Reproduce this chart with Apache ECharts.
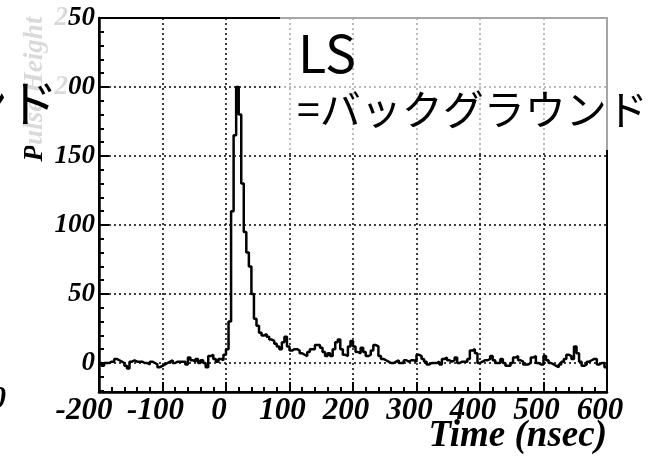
<!DOCTYPE html>
<html>
<head>
<meta charset="utf-8">
<script src="https://cdn.jsdelivr.net/npm/echarts@6/dist/echarts.min.js"></script>
<style>
  html, body { margin: 0; padding: 0; background: #fff; }
  #main { width: 663px; height: 458px; }
</style>
</head>
<body>
<div id="main"></div>
<script>
// histogram binning (ns)
var BIN_START = -200;
var BIN_WIDTH = 4;
var X_MIN = -200, X_MAX = 600;
var Y_MIN = -21, Y_MAX = 250;

// counts per 4 ns bin
var countsPre = [0, -2, 0, 0, 1, 1, 3, 2, 1, 0, -2, -4, 1, 2, 1, 1, 1, 0, 0, -1,
    1, 0, -1, -3, -2, -1, 0, 1, 2, 0, 1, 1, 1, 1, -1, 4, 2, 1, 3, 0,
    2, 0, -3, 5, 6, 3, 1, 3, 2, 6];                       // -200 .. 0
var countsPeak = [10, 30, 110, 165, 200, 180, 130, 95, 80, 70, 50, 32, 27, 22, 20, 21, 19, 17, 16, 14,
    12, 10, 15, 19, 12, 9, 10, 10, 9, 7, 6, 5, 8, 10, 10, 13, 13, 11, 8, 5,
    7, 5, 10, 15, 17, 10, 6, 5, 12, 16];                  // 0 .. 200
var countsTail1 = [12, 8, 7, 11, 8, 5, 6, 9, 13, 12, 5, 3, 2, 1, 0, 0, 1, 2, 0, 0,
    2, 1, 2, 2, 1, 6, 5, 3, 1, -1, 0, 0, 0, 1, -1, 3, 4, 2, 1, 2,
    4, 0, 1, 1, 1, 3, 9, 10, 7, 0];                       // 200 .. 400
var countsTail2 = [1, 2, 2, 3, 5, 2, 0, 0, 3, 0, -2, -2, 0, 4, 5, 2, 1, -1, -1, 0,
    4, 5, 0, -1, -1, 5, 2, 0, -1, -2, -3, -1, 1, 3, 6, 5, 3, 12, 7, 1,
    -2, -1, 1, 2, 3, 3, -1, 0, 0, -3];                    // 400 .. 600

var xTitle = 'Time (nsec)';
var yTitle = 'Pulse Height';
var noteLines = ['LS', '=バックグラウンド'];
var leftCutText = 'ンド';

var counts = countsPre.concat(countsPeak, countsTail1, countsTail2);

// step line: point at each bin's left edge, plus closing point at the last edge
var histData = [];
for (var i = 0; i < counts.length; i++) {
    histData.push([BIN_START + i * BIN_WIDTH, counts[i]]);
}
histData.push([BIN_START + counts.length * BIN_WIDTH, counts[counts.length - 1]]);

var serif = '"Liberation Serif", "Times New Roman", serif';
var jp = '"Noto Sans CJK JP", sans-serif';

var myChart = echarts.init(document.getElementById('main'), null, {renderer: 'canvas'});

var labelFont = {fontFamily: serif, fontStyle: 'italic', fontWeight: 'bold', fontSize: 31, color: '#000'};

var option = {
    animation: false,
    backgroundColor: '#fff',
    grid: {
        left: 99, right: 56, top: 18, bottom: 66,
        containLabel: false,
        outerBoundsMode: 'none',
        show: true,
        borderColor: '#000',
        borderWidth: 2
    },
    xAxis: {
        type: 'value',
        min: X_MIN, max: X_MAX, interval: 100,
        axisLine: {onZero: false, lineStyle: {color: '#000', width: 2.5}},
        axisTick: {inside: true, length: 10, lineStyle: {color: '#000', width: 2}},
        minorTick: {show: true, splitNumber: 5, length: 5, lineStyle: {color: '#000', width: 2}},
        splitLine: {show: true, lineStyle: {color: '#000', width: 1.5, type: [2, 3]}},
        axisLabel: {
            margin: 3,
            formatter: function (v) {
                return v === X_MIN ? '{first|' + v + '}' : '{n|' + v + '}';
            },
            rich: {
                first: Object.assign({padding: [0, 30, 0, 0]}, labelFont),
                n: Object.assign({padding: [0, 14, 0, 0]}, labelFont)
            }
        }
    },
    yAxis: {
        type: 'value',
        min: Y_MIN, max: Y_MAX, splitNumber: 5,
        axisLine: {onZero: false, lineStyle: {color: '#000', width: 2.5}},
        axisTick: {inside: true, length: 10, lineStyle: {color: '#000', width: 2}},
        minorTick: {show: true, splitNumber: 5, length: 5, lineStyle: {color: '#000', width: 2}},
        splitLine: {show: true, lineStyle: {color: '#000', width: 1.5, type: [2, 3]}},
        axisLabel: {
            showMinLabel: false,
            margin: 4,
            fontFamily: serif, fontStyle: 'italic', fontWeight: 'bold', fontSize: 27, color: '#000'
        }
    },
    series: [{
        type: 'line',
        step: 'end',
        data: histData,
        symbol: 'none',
        z: 3,
        lineStyle: {color: '#000', width: 2.5}
    }],
    graphic: [
        {
            type: 'text', x: 35, y: 89, rotation: Math.PI / 2, z: 50,
            style: {text: yTitle, font: 'italic bold 27px ' + serif, fill: '#000', align: 'center', verticalAlign: 'middle'}
        },
        {
            type: 'text', x: 607, y: 436, z: 50,
            style: {text: xTitle, font: 'italic bold 37px ' + serif, fill: '#000', align: 'right', verticalAlign: 'middle'}
        },
        {
            type: 'text', x: 6, y: 400, z: 50,
            style: {text: '0', font: 'italic bold 31px ' + serif, fill: '#000', align: 'right', verticalAlign: 'middle'}
        },
        // pasted slide boxes partly covering the chart
        {
            type: 'rect', z: 100,
            shape: {x: 0, y: 0, width: 68, height: 146},
            style: {fill: 'rgba(255,255,255,0.85)'}
        },
        {
            type: 'rect', z: 100,
            shape: {x: 280, y: 8, width: 383, height: 142},
            style: {fill: 'rgba(255,255,255,0.65)'}
        },
        {
            type: 'text', x: 58, y: 103, z: 110,
            style: {text: leftCutText, font: '50px ' + jp, fill: '#000', align: 'right', verticalAlign: 'middle'}
        },
        {
            type: 'text', x: 298, y: 53, z: 110,
            style: {text: noteLines[0], font: '52px ' + jp, fill: '#000', align: 'left', verticalAlign: 'middle'}
        },
        {
            type: 'text', x: 297, y: 109, z: 110,
            style: {text: noteLines[1], font: '41px ' + jp, fill: '#000', align: 'left', verticalAlign: 'middle'}
        }
    ]
};

myChart.setOption(option);
</script>
</body>
</html>
